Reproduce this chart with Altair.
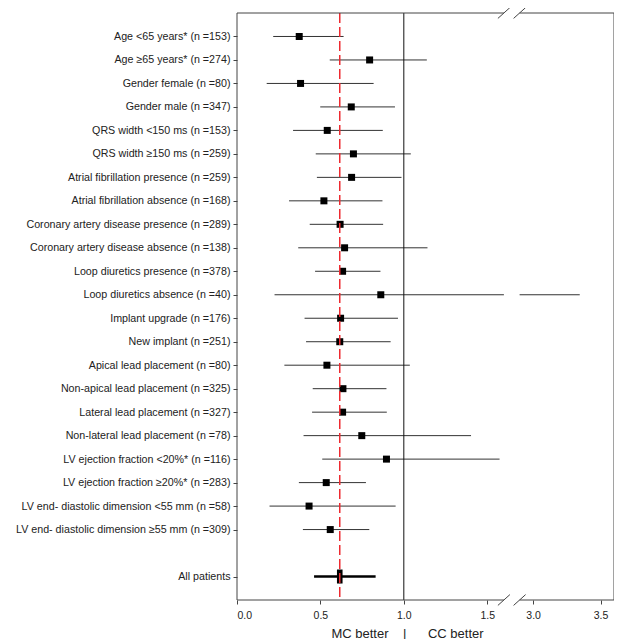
import json
import altair as alt
import pandas as pd

# ---------------- data ----------------
labels = [
    "Age <65 years* (n =153)",
    "Age \u226565 years* (n =274)",
    "Gender female (n =80)",
    "Gender male (n =347)",
    "QRS width <150 ms (n =153)",
    "QRS width \u2265150 ms (n =259)",
    "Atrial fibrillation presence (n =259)",
    "Atrial fibrillation absence (n =168)",
    "Coronary artery disease presence (n =289)",
    "Coronary artery disease absence (n =138)",
    "Loop diuretics presence (n =378)",
    "Loop diuretics absence (n =40)",
    "Implant upgrade (n =176)",
    "New implant (n =251)",
    "Apical lead placement (n =80)",
    "Non-apical lead placement (n =325)",
    "Lateral lead placement (n =327)",
    "Non-lateral lead placement (n =78)",
    "LV ejection fraction <20%* (n =116)",
    "LV ejection fraction \u226520%* (n =283)",
    "LV end- diastolic dimension <55 mm (n =58)",
    "LV end- diastolic dimension \u226555 mm (n =309)",
    "All patients",
]
rows = list(range(1, 23)) + [24]
est = [0.373, 0.795, 0.381, 0.685, 0.541, 0.698, 0.687, 0.521, 0.618, 0.645,
       0.633, 0.862, 0.621, 0.616, 0.539, 0.635, 0.633, 0.748, 0.896, 0.535,
       0.432, 0.559, 0.616]
lo = [0.217, 0.556, 0.178, 0.499, 0.336, 0.472, 0.479, 0.312, 0.436, 0.367,
      0.468, 0.225, 0.405, 0.414, 0.284, 0.454, 0.450, 0.399, 0.511, 0.371,
      0.195, 0.395, 0.462]
hi = [0.639, 1.138, 0.819, 0.947, 0.874, 1.042, 0.986, 0.872, 0.876, 1.142,
      0.860, 3.346, 0.965, 0.921, 1.036, 0.896, 0.898, 1.403, 1.574, 0.773,
      0.951, 0.793, 0.831]

x_ticks = [0.0, 0.5, 1.0, 1.5, 3.0, 3.5]
x_domain = [0.0, 1.6, 2.9, 3.6]       # broken axis: 1.6 .. 2.9 is the break
W, H = 377, 587
x_range = [0, 266.9, 282.6, W]
pooled = 0.616
null_value = 1.0
y_max = 25

df = pd.DataFrame({"label": labels, "row": rows, "est": est, "lo": lo, "hi": hi})
sub = df.iloc[:-1]
overall = df.iloc[-1:]

label_lookup = [""] * (y_max + 1)
for r, l in zip(rows, labels):
    label_lookup[r] = l
label_expr = json.dumps(label_lookup) + "[datum.value]"

xscale = alt.Scale(domain=x_domain, range=x_range, nice=False, zero=False)
yscale = alt.Scale(domain=[0, y_max], reverse=True, nice=False, zero=False)

nb = "\u00a0"
title_text = "MC better" + nb * 4 + "|" + nb * 6 + "CC better"

xaxis = alt.Axis(values=x_ticks, format=".1f", domain=False, grid=False,
                 tickSize=4, tickColor="#444", labelFontSize=10.5, labelColor="#222",
                 labelPadding=6, labelOverlap=False, title=title_text,
                 titleFontSize=13, titleFontWeight="normal", titleColor="#222",
                 titleX=170, titleY=33, titleBaseline="middle")
yaxis = alt.Axis(values=rows, labelExpr=label_expr, domain=False, grid=False,
                 tickSize=4, tickColor="#444", labelFontSize=10.7, labelColor="#222",
                 labelPadding=3, labelLimit=400, labelOverlap=False,
                 labelSeparation=0, title=None)


def X(field):
    return alt.X(field, type="quantitative", scale=xscale, axis=xaxis)


def Y(field):
    return alt.Y(field, type="quantitative", scale=yscale, axis=yaxis)


base = alt.Chart(sub)

ci = base.mark_rule(color="#333", strokeWidth=1).encode(x=X("lo"), x2="hi", y=Y("row"))
pts = base.mark_square(size=49, color="black", opacity=1).encode(x=X("est"), y=Y("row"))

ov = alt.Chart(overall)
ov_ci = ov.mark_rule(color="black", strokeWidth=2.5).encode(x=X("lo"), x2="hi", y=Y("row"))
ov_pt = ov.mark_point(shape="M-0.4,-1L0.4,-1L0.4,1L-0.4,1Z", filled=True,
                      size=196, color="black", opacity=1).encode(x=X("est"), y=Y("row"))

refs = pd.DataFrame({"lo": [null_value], "row": [0], "row2": [y_max]})
null_line = alt.Chart(refs).mark_rule(color="#111", strokeWidth=1).encode(
    x=X("lo"), y=Y("row"), y2="row2"
)
pooled_df = pd.DataFrame({"lo": [pooled], "row": [0], "row2": [y_max]})
pooled_line = alt.Chart(pooled_df).mark_rule(
    color="#ee2a30", strokeWidth=1.5, strokeDash=[10, 4]
).encode(x=X("lo"), y=Y("row"), y2="row2")

gap_df = pd.DataFrame({"lo": [x_domain[1]], "hi": [x_domain[2]],
                       "row": [0.02], "row2": [y_max - 0.02]})
gap = alt.Chart(gap_df).mark_rect(color="white", opacity=1).encode(
    x=X("lo"), x2="hi", y=Y("row"), y2="row2"
)

frame_df = pd.DataFrame({
    "lo":   [0, x_domain[3], 0, x_domain[2], 0, x_domain[2]],
    "hi":   [0, x_domain[3], x_domain[1], x_domain[3], x_domain[1], x_domain[3]],
    "row":  [0, 0, 0, 0, y_max, y_max],
    "row2": [y_max, y_max, 0, 0, y_max, y_max],
})
frame = alt.Chart(frame_df).mark_rule(color="#444", strokeWidth=1).encode(
    x=X("lo"), x2="hi", y=Y("row"), y2="row2"
)

slash_df = pd.DataFrame({"lo": [x_domain[1], x_domain[2], x_domain[1], x_domain[2]],
                         "row": [0, 0, y_max, y_max]})
slashes = alt.Chart(slash_df).mark_point(
    shape="M-1,0.9L1,-0.9", filled=False, size=144, color="#444", strokeWidth=1, opacity=1
).encode(x=X("lo"), y=Y("row"))

chart = alt.layer(
    ci, null_line, pts, ov_ci, ov_pt, pooled_line, gap, frame, slashes
).properties(
    width=W, height=H,
    autosize=alt.AutoSizeParams(type="none"),
    padding={"left": 229, "top": 5, "right": 0, "bottom": 39},
).configure_view(strokeWidth=0).configure_axis(
    labelFont="Liberation Sans", titleFont="Liberation Sans", labelOverlap=False
)

chart.save("out.html", embed_options={"renderer": "svg", "actions": False})
